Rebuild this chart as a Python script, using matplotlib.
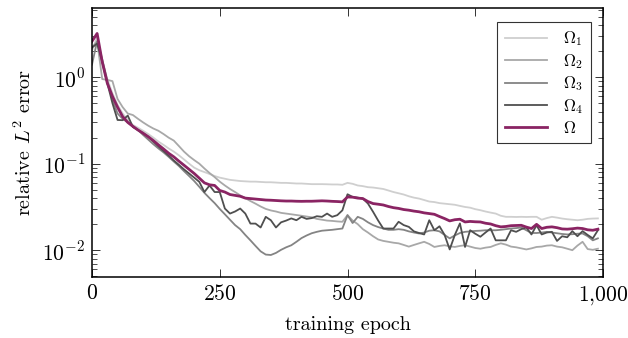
import math
import matplotlib
matplotlib.use("Agg")
import matplotlib.pyplot as plt
from matplotlib.ticker import FixedLocator, FuncFormatter, LogLocator, NullFormatter

plt.rcParams["font.family"] = "serif"
plt.rcParams["font.serif"] = ["cmr10", "DejaVu Serif"]
plt.rcParams["mathtext.fontset"] = "cm"
plt.rcParams["axes.unicode_minus"] = False

# training epochs (sampled every 10 epochs)
epochs = list(range(0, 1000, 10))

# relative L2 error per subdomain
err_omega1 = [
    2.0, 2.9, 1.6, 0.95, 0.65, 0.48, 0.38, 0.32, 0.28, 0.26,
    0.24, 0.22, 0.2, 0.18, 0.165, 0.15, 0.138, 0.125, 0.112, 0.1,
    0.09, 0.084, 0.08, 0.076, 0.072, 0.069, 0.067, 0.065, 0.064, 0.063,
    0.0625, 0.062, 0.062, 0.0615, 0.061, 0.061, 0.0605, 0.06, 0.06, 0.0595,
    0.059, 0.059, 0.0585, 0.058, 0.058, 0.058, 0.0578, 0.0575, 0.0575, 0.057,
    0.06, 0.0585, 0.056, 0.055, 0.0535, 0.053, 0.052, 0.051, 0.049, 0.047,
    0.0455, 0.044, 0.042, 0.0405, 0.0395, 0.038, 0.0365, 0.036, 0.035, 0.0345,
    0.034, 0.0335, 0.0325, 0.0316, 0.031, 0.0298, 0.029, 0.028, 0.0272, 0.0265,
    0.025, 0.0243, 0.0243, 0.0242, 0.0243, 0.0242, 0.0243, 0.0243, 0.0225, 0.0235,
    0.0243, 0.0238, 0.0232, 0.0228, 0.0225, 0.0222, 0.0225, 0.023, 0.0232, 0.0233,
]
err_omega2 = [
    2.2, 2.6, 0.95, 0.93, 0.9, 0.56, 0.45, 0.38, 0.365, 0.33,
    0.3, 0.275, 0.255, 0.24, 0.22, 0.2, 0.185, 0.16, 0.138, 0.122,
    0.11, 0.1, 0.088, 0.078, 0.07, 0.062, 0.056, 0.051, 0.047, 0.043,
    0.04, 0.037, 0.0345, 0.032, 0.03, 0.0288, 0.028, 0.027, 0.0265, 0.026,
    0.0255, 0.025, 0.0245, 0.024, 0.023, 0.0225, 0.022, 0.0218, 0.0215, 0.0213,
    0.0254, 0.022, 0.02, 0.0175, 0.016, 0.0145, 0.0133, 0.0128, 0.0125, 0.0122,
    0.012, 0.0115, 0.011, 0.0115, 0.012, 0.0125, 0.0118, 0.0109, 0.0112, 0.0114,
    0.0111, 0.0109, 0.0112, 0.0114, 0.011, 0.0106, 0.0104, 0.0107, 0.0109, 0.0115,
    0.012, 0.0116, 0.011, 0.0108, 0.0105, 0.0102, 0.0105, 0.0109, 0.011, 0.0113,
    0.0114, 0.011, 0.0108, 0.0104, 0.01, 0.0113, 0.0125, 0.0103, 0.0101, 0.0104,
]
err_omega3 = [
    1.4, 2.6, 1.6, 0.9, 0.55, 0.38, 0.33, 0.3, 0.27, 0.245,
    0.215, 0.19, 0.168, 0.15, 0.135, 0.12, 0.106, 0.094, 0.082, 0.072,
    0.063, 0.054, 0.046, 0.04, 0.035, 0.03, 0.026, 0.0225, 0.0195, 0.0175,
    0.015, 0.013, 0.0112, 0.0097, 0.0089, 0.0088, 0.0093, 0.0101, 0.0108, 0.0114,
    0.0125, 0.0138, 0.0148, 0.0157, 0.0163, 0.0168, 0.017, 0.0172, 0.0175, 0.0178,
    0.0254, 0.0206, 0.0243, 0.023, 0.021, 0.0195, 0.0185, 0.0178, 0.0172, 0.0172,
    0.0175, 0.0172, 0.0165, 0.016, 0.0156, 0.016, 0.0168, 0.017, 0.0165, 0.015,
    0.0137, 0.0148, 0.0158, 0.0163, 0.0165, 0.0167, 0.0168, 0.017, 0.017, 0.017,
    0.0172, 0.0175, 0.0178, 0.018, 0.0183, 0.017, 0.0158, 0.0158, 0.016, 0.0163,
    0.016, 0.0157, 0.0154, 0.0152, 0.0153, 0.0155, 0.0156, 0.0145, 0.013, 0.0137,
]
err_omega4 = [
    2.2, 2.45, 1.5, 0.85, 0.5, 0.32, 0.318, 0.36, 0.265, 0.245,
    0.225, 0.205, 0.18, 0.158, 0.14, 0.124, 0.109, 0.097, 0.086, 0.077,
    0.069, 0.0616, 0.047, 0.056, 0.047, 0.047, 0.0303, 0.0265, 0.028, 0.0303,
    0.0265, 0.0203, 0.0203, 0.0183, 0.0243, 0.0222, 0.0183, 0.021, 0.022, 0.0233,
    0.0222, 0.0243, 0.023, 0.0235, 0.0247, 0.0243, 0.0265, 0.0243, 0.0254, 0.0289,
    0.0443, 0.0413, 0.0405, 0.0395, 0.0346, 0.0278, 0.022, 0.0178, 0.0178, 0.0178,
    0.0213, 0.0195, 0.0186, 0.0165, 0.0158, 0.0152, 0.0222, 0.017, 0.0189, 0.015,
    0.0102, 0.015, 0.0204, 0.0109, 0.017, 0.0155, 0.0143, 0.016, 0.0178, 0.013,
    0.013, 0.013, 0.017, 0.0163, 0.0175, 0.0183, 0.0152, 0.0194, 0.0152, 0.016,
    0.0163, 0.0128, 0.0145, 0.0141, 0.0166, 0.0145, 0.0166, 0.015, 0.0137, 0.017,
]
err_omega = [
    2.6, 3.2, 1.5, 0.85, 0.6, 0.45, 0.35, 0.3, 0.27, 0.245,
    0.225, 0.205, 0.185, 0.165, 0.148, 0.132, 0.12, 0.107, 0.096, 0.086,
    0.077, 0.068, 0.06, 0.057, 0.056, 0.049, 0.047, 0.044, 0.043, 0.042,
    0.04, 0.0395, 0.039, 0.0385, 0.038, 0.0378, 0.0375, 0.0372, 0.037, 0.037,
    0.0368, 0.0367, 0.0368, 0.0368, 0.037, 0.0372, 0.037, 0.0367, 0.0365, 0.0362,
    0.0412, 0.041, 0.04, 0.0395, 0.0365, 0.0346, 0.034, 0.0333, 0.032, 0.031,
    0.0304, 0.0295, 0.029, 0.0283, 0.0278, 0.027, 0.0265, 0.026, 0.0245, 0.0232,
    0.0218, 0.0225, 0.0228, 0.0212, 0.0215, 0.0213, 0.0212, 0.0205, 0.0201, 0.0192,
    0.0186, 0.0188, 0.0192, 0.0193, 0.0194, 0.0185, 0.0178, 0.0199, 0.0178, 0.0184,
    0.0186, 0.0182, 0.0176, 0.0175, 0.0177, 0.018, 0.0178, 0.0172, 0.017, 0.0175,
]

labels = [r"$\Omega_1$", r"$\Omega_2$", r"$\Omega_3$", r"$\Omega_4$", r"$\Omega$"]
x_ticks = [0, 250, 500, 750, 1000]
y_ticks = [1e-2, 1e-1, 1e0]

fig = plt.figure(figsize=(6.28, 3.38), dpi=100)
ax = fig.add_axes([0.1465, 0.1805, 0.8137, 0.7958])

ax.plot(epochs, err_omega1, color="#cfcfcf", lw=1.3, label=labels[0])
ax.plot(epochs, err_omega2, color="#a8a8a8", lw=1.3, label=labels[1])
ax.plot(epochs, err_omega3, color="#848484", lw=1.3, label=labels[2])
ax.plot(epochs, err_omega4, color="#4f4f4f", lw=1.3, label=labels[3])
ax.plot(epochs, err_omega, color="#8a2463", lw=2.0, label=labels[4])

ax.set_yscale("log")
ax.set_xlim(0, 1000)
ax.set_ylim(0.0049, 6.3)

ax.xaxis.set_major_locator(FixedLocator(x_ticks))
ax.xaxis.set_major_formatter(
    FuncFormatter(lambda v, p: "$" + f"{int(v):,}".replace(",", "{,}") + "$"))
ax.yaxis.set_major_locator(FixedLocator(y_ticks))
ax.yaxis.set_major_formatter(
    FuncFormatter(lambda v, p: r"$10^{%d}$" % round(math.log10(v))))
ax.yaxis.set_minor_locator(LogLocator(base=10, subs=range(2, 10), numticks=20))
ax.yaxis.set_minor_formatter(NullFormatter())

ax.tick_params(which="both", direction="in", top=True, right=True,
               labelsize=15.5, color="#333333")
ax.tick_params(which="major", length=6, width=0.7, pad=5)
ax.tick_params(which="minor", length=3.5, width=0.6)
for s in ax.spines.values():
    s.set_linewidth(1.1)

ax.set_xlabel("training epoch", fontsize=14.5, labelpad=7)
ax.set_ylabel(r"relative $L^2$ error", fontsize=14.5, labelpad=5)

leg = ax.legend(loc="upper right", bbox_to_anchor=(0.9765, 0.948),
                borderaxespad=0, fancybox=False, edgecolor="black",
                fontsize=12, handlelength=2.5, labelspacing=0.22,
                borderpad=0.45, handletextpad=1.0)
leg.get_frame().set_linewidth(0.8)

fig.savefig("out.png", dpi=100)
